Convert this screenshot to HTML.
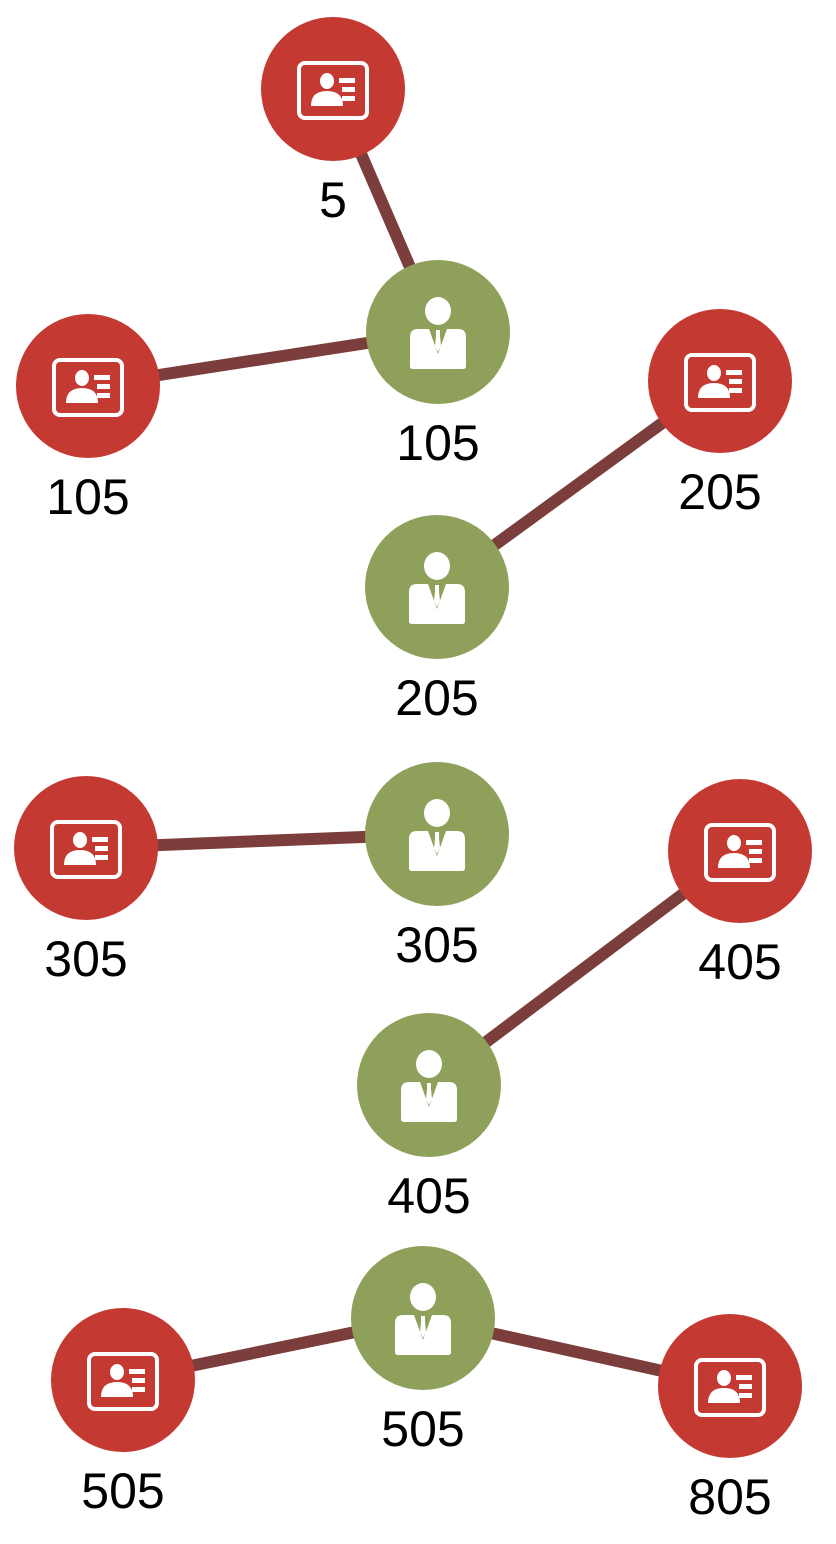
<!DOCTYPE html>
<html><head><meta charset="utf-8"><style>
html,body{margin:0;padding:0;background:#fff;width:836px;height:1544px;overflow:hidden}
svg{display:block}
text{font-family:"Liberation Sans",sans-serif;font-size:50px;fill:#000}
</style></head><body>
<svg id="chart" width="836" height="1544" viewBox="0 0 836 1544" xmlns="http://www.w3.org/2000/svg">
<g id="edges"></g>
<g id="nodes"></g>
</svg>
<script>
const nodeKinds = ["card","card","person","card","person","card","person","card","person","person","card","card"];
const nodeX = [333,88,438,720,437,86,437,740,429,423,123,730];
const nodeY = [89,386,332,381,587,848,834,851,1085,1318,1380,1386];
const nodeLabels = ["5","105","105","205","205","305","305","405","405","505","505","805"];
const edgeFrom = [0,1,3,5,7,9,9];
const edgeTo = [2,2,4,6,8,10,11];

const NS = "http://www.w3.org/2000/svg";
const R = 72;
function mk(tag, attrs, parent){
  const el = document.createElementNS(NS, tag);
  for (const k in attrs) el.setAttribute(k, attrs[k]);
  parent.appendChild(el);
  return el;
}
const gE = document.getElementById("edges");
const gN = document.getElementById("nodes");

for (let i = 0; i < edgeFrom.length; i++) {
  const a = edgeFrom[i], b = edgeTo[i];
  const l = mk("line", {x1: nodeX[a], y1: nodeY[a], x2: nodeX[b], y2: nodeY[b], stroke: "#7b3e3c", "stroke-width": 12}, gE);
  
  
}

for (let i = 0; i < nodeKinds.length; i++) {
  const cx = nodeX[i], cy = nodeY[i];
  const g = mk("g", {transform: "translate(" + cx + "," + cy + ")"}, gN);
  
  
  if (nodeKinds[i] === "card") {
    mk("circle", {r: R, fill: "#c43a33"}, g);
    const ic = mk("g", {}, g);
    
    
    mk("rect", {x: -34, y: -26, width: 68, height: 55, rx: 6, fill: "none", stroke: "#fff", "stroke-width": 4}, ic);
    mk("ellipse", {cx: -6, cy: -8, rx: 7, ry: 8, fill: "#fff"}, ic);
    mk("path", {d: "M-22 17 Q-22 2 -6 2 Q10 2 10 17 Z", fill: "#fff"}, ic);
    mk("rect", {x: 6, y: -11, width: 16, height: 5, fill: "#fff"}, ic);
    mk("rect", {x: 9, y: -2, width: 13, height: 5, fill: "#fff"}, ic);
    mk("rect", {x: 9, y: 7, width: 13, height: 5, fill: "#fff"}, ic);
  } else {
    mk("circle", {r: R, fill: "#8fa05b"}, g);
    const ic = mk("g", {}, g);
    
    
    mk("ellipse", {cx: 0, cy: -21, rx: 13, ry: 14, fill: "#fff"}, ic);
    mk("path", {d: "M-28 5 Q-28 -3 -20 -3 L20 -3 Q28 -3 28 5 L28 34 Q28 37 25 37 L-25 37 Q-28 37 -28 34 Z", fill: "#fff"}, ic);
    mk("path", {d: "M-9 -3 L0 22 L9 -3 Z", fill: "#8fa05b"}, ic);
    mk("path", {d: "M-2 -2 L2 -2 L2 4 L3 14 L0 20 L-3 14 L-2 4 Z", fill: "#fff"}, ic);
  }
  const t = mk("text", {x: cx, y: cy + 128, "text-anchor": "middle"}, gN);
  t.textContent = nodeLabels[i];
  
  
}
</script>
</body></html>
